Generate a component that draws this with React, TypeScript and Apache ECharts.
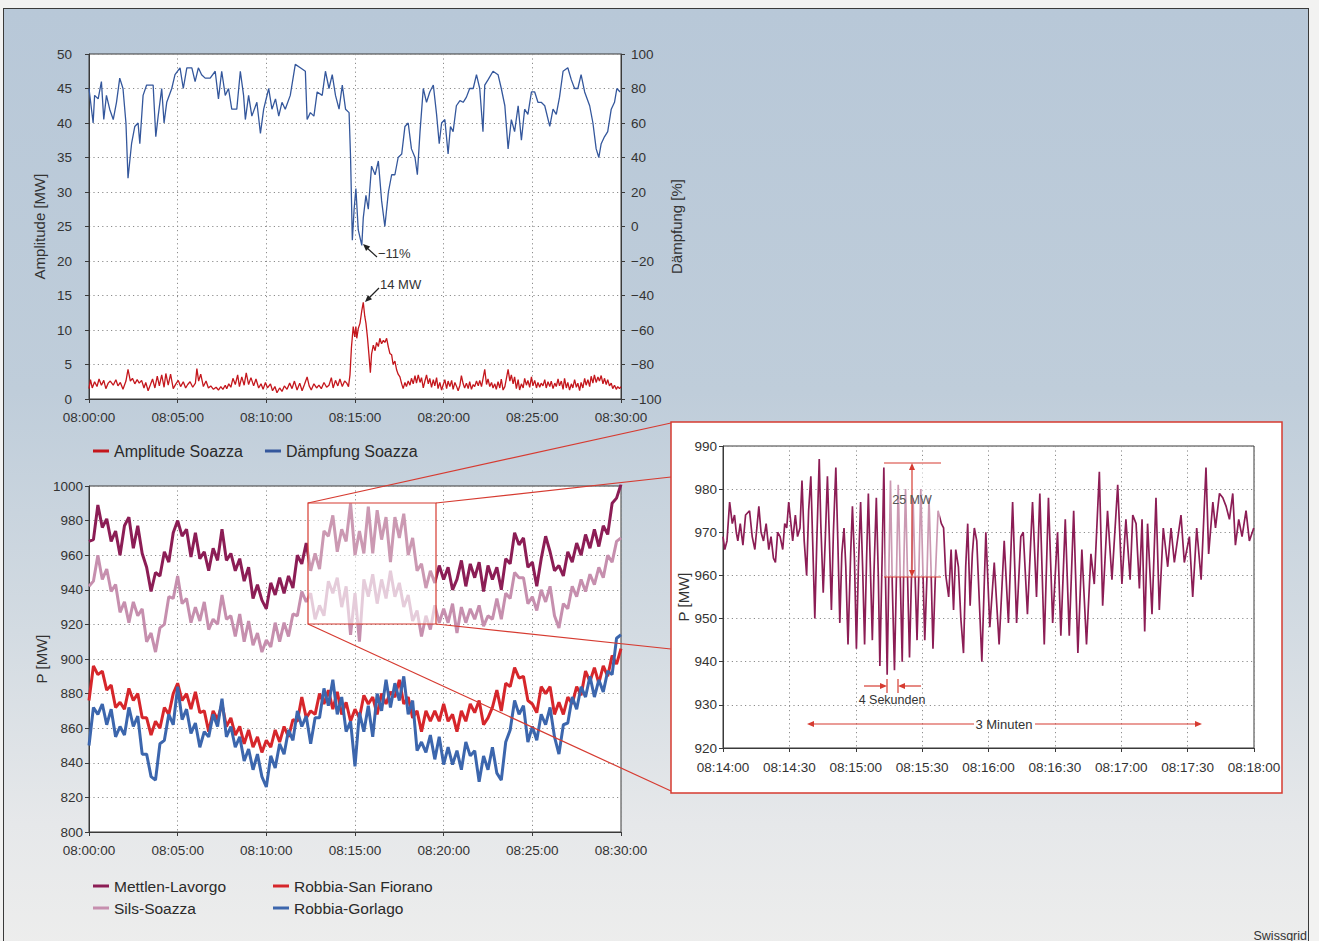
import React, { useEffect, useRef } from "react";
import * as echarts from "echarts";

const FONT = '"Liberation Sans", Arial, Helvetica, sans-serif';

// ---------- Top chart: Soazza (seconds after 08:00:00, value) ----------
const dampingSoazza: [number, number][] = [
  [0,80],[14,60],[19,76],[31,74],[42,84],[50,62],[59,76],[70,68],[82,62],[93,72],[104,86],[115,80],[125,60],[132,28],[144,48],[155,58],[166,60],[172,48],[183,76],[195,82],[217,82],[226,52],[234,64],[246,80],[254,60],[263,72],[280,80],[291,88],[308,92],[319,80],[331,92],[348,92],[359,84],[370,92],[381,88],[393,86],[410,86],[427,90],[438,74],[449,90],[461,76],[472,80],[483,68],[500,68],[512,90],[523,76],[529,62],[540,76],[551,64],[568,72],[580,54],[591,68],[608,80],[619,68],[631,74],[642,64],[653,72],[664,68],[681,76],[698,94],[715,92],[732,90],[738,62],[749,66],[761,64],[772,78],[789,76],[800,90],[812,80],[823,88],[834,76],[846,68],[857,82],[868,68],[880,66],[885,40],[891,-8],[897,10],[903,22],[911,-2],[923,-11],[928,5],[937,18],[945,10],[956,35],[968,30],[979,38],[990,15],[1001,0],[1013,20],[1024,30],[1035,30],[1046,40],[1058,42],[1069,58],[1080,60],[1091,45],[1103,40],[1111,30],[1120,55],[1131,80],[1142,72],[1153,78],[1165,82],[1176,65],[1185,48],[1193,60],[1204,62],[1215,42],[1223,58],[1232,55],[1243,70],[1255,73],[1266,72],[1277,75],[1288,80],[1300,80],[1311,88],[1322,80],[1333,55],[1339,82],[1350,85],[1367,90],[1384,88],[1395,80],[1407,70],[1418,45],[1429,62],[1440,55],[1452,70],[1463,50],[1474,68],[1485,65],[1497,78],[1508,78],[1519,72],[1530,72],[1542,70],[1559,58],[1570,68],[1581,65],[1592,75],[1604,90],[1620,92],[1632,85],[1643,80],[1654,80],[1665,88],[1677,78],[1694,70],[1705,60],[1716,45],[1725,40],[1733,48],[1744,52],[1755,55],[1767,68],[1778,72],[1786,80],[1797,78]
];

const amplitudeSoazza: [number, number][] = [
  [0,1.5],[5,2.8],[11,1.6],[19,2.5],[27,1.8],[34,2.9],[42,2.0],[50,2.7],[57,1.5],[65,2.3],[72,2.6],[82,2.0],[91,2.8],[98,1.9],[106,2.4],[115,1.4],[125,2.6],[132,4.3],[140,2.6],[147,3.0],[155,2.2],[163,2.8],[170,2.3],[178,2.7],[186,1.6],[192,2.4],[200,1.2],[208,2.1],[215,2.9],[223,1.6],[231,3.3],[238,1.9],[246,3.5],[254,1.7],[260,3.7],[268,2.0],[276,3.6],[285,1.5],[294,2.2],[302,2.7],[310,1.8],[319,2.5],[327,1.6],[334,2.1],[342,2.5],[351,1.7],[360,2.3],[365,4.4],[371,2.6],[378,3.6],[387,1.8],[396,2.6],[404,1.6],[412,1.9],[421,1.4],[430,1.7],[438,1.3],[446,1.8],[453,1.4],[461,2.0],[466,1.5],[473,2.2],[480,1.7],[487,3.0],[495,2.1],[503,3.5],[509,1.8],[517,3.2],[525,2.0],[532,3.8],[540,2.1],[548,3.1],[557,1.9],[565,2.9],[574,1.6],[582,2.2],[589,1.4],[597,2.4],[604,1.6],[614,2.2],[621,1.2],[629,1.8],[636,0.9],[645,1.6],[653,1.1],[661,1.9],[670,1.4],[679,2.3],[687,1.5],[695,2.6],[704,1.3],[713,2.3],[721,1.2],[729,2.1],[738,3.2],[745,1.9],[752,1.3],[761,2.2],[770,1.6],[778,2.0],[786,1.5],[795,2.4],[804,1.7],[812,2.0],[820,3.1],[826,1.6],[834,2.7],[842,1.9],[849,2.9],[857,1.8],[865,2.6],[872,2.3],[878,1.8],[883,3.5],[888,7.5],[894,10.5],[899,9.0],[903,10.5],[906,8.8],[911,10.2],[917,11.0],[923,12.8],[928,14.0],[933,12.0],[937,11.0],[942,9.0],[947,6.5],[952,3.8],[956,6.5],[962,7.8],[968,7.0],[973,8.2],[979,7.6],[984,8.8],[990,8.0],[996,8.5],[1001,8.2],[1007,8.8],[1013,7.5],[1018,6.6],[1024,6.4],[1029,5.0],[1035,5.5],[1041,4.2],[1046,3.6],[1052,3.2],[1058,2.2],[1063,1.5],[1069,2.4],[1074,1.8],[1080,2.6],[1086,2.0],[1091,3.0],[1097,2.2],[1103,3.4],[1108,2.3],[1114,3.5],[1120,2.4],[1125,3.1],[1131,1.6],[1136,2.5],[1142,3.5],[1148,2.2],[1153,3.0],[1159,1.7],[1165,2.8],[1170,1.9],[1176,3.1],[1181,1.5],[1187,2.4],[1193,1.3],[1198,2.0],[1204,2.8],[1210,1.5],[1215,2.6],[1221,1.8],[1227,2.7],[1232,1.4],[1238,2.4],[1243,1.9],[1249,1.2],[1255,2.0],[1260,3.4],[1266,2.2],[1271,1.6],[1277,2.3],[1283,1.5],[1288,2.5],[1294,1.4],[1300,2.1],[1305,1.8],[1311,2.6],[1317,1.9],[1322,2.7],[1328,1.8],[1333,2.9],[1339,4.3],[1345,2.1],[1350,2.9],[1356,1.8],[1362,2.4],[1367,1.6],[1373,2.2],[1378,1.4],[1384,2.5],[1390,1.6],[1395,2.9],[1401,1.3],[1407,1.8],[1412,2.9],[1418,4.3],[1424,2.6],[1429,3.5],[1435,2.2],[1440,3.2],[1446,1.5],[1452,2.8],[1457,1.3],[1463,2.2],[1469,1.6],[1474,3.0],[1480,2.0],[1485,2.7],[1491,1.7],[1497,3.2],[1502,1.9],[1508,2.7],[1514,1.6],[1519,2.4],[1525,1.7],[1530,2.3],[1536,1.9],[1542,2.8],[1547,1.6],[1553,2.5],[1559,1.8],[1564,2.6],[1570,1.5],[1576,2.3],[1581,1.8],[1587,2.9],[1592,1.9],[1598,2.6],[1604,1.4],[1609,3.0],[1615,1.6],[1620,2.4],[1626,1.3],[1632,2.2],[1637,1.6],[1643,2.8],[1649,1.7],[1654,2.3],[1660,1.2],[1665,2.4],[1671,1.6],[1677,3.0],[1682,2.0],[1688,2.8],[1694,1.8],[1699,3.3],[1705,2.3],[1710,3.5],[1716,2.4],[1722,3.2],[1727,2.6],[1733,3.4],[1739,2.2],[1744,3.0],[1750,2.1],[1755,2.8],[1761,1.9],[1767,2.3],[1772,1.5],[1778,2.0],[1784,1.4],[1789,1.8],[1795,1.5],[1800,1.8]
];

// ---------- Bottom-left chart: line flows, one value every 15 s from 08:00:00 ----------
const STEP = 15;
const mettlenLavorgo = [
  968,969,989,976,981,968,974,960,977,982,
  964,977,961,953,939,950,948,962,956,973,
  980,971,975,959,973,958,962,951,964,957,
  975,957,961,951,958,945,953,935,943,934,
  929,944,937,947,938,948,941,960,955,967,
  951,961,952,974,971,983,962,975,968,990,
  960,974,961,988,961,986,969,982,956,982,
  970,984,960,970,951,955,941,951,944,954,
  946,953,940,946,957,942,955,947,956,939,
  954,946,953,940,958,955,973,966,970,953,
  956,942,958,971,962,951,954,948,962,956,
  967,960,972,964,975,965,977,972,990,993,
  1001
];
const silsSoazza = [
  942,945,960,946,952,939,943,927,933,921,
  933,925,929,910,915,904,918,920,936,935,
  948,932,935,921,930,922,933,917,923,920,
  937,923,925,913,926,910,922,908,915,904,
  911,907,921,910,921,913,926,925,939,933,
  938,923,931,925,945,938,947,930,942,914,
  938,910,946,936,949,932,946,935,951,936,
  944,930,937,922,928,913,925,917,931,921,
  929,921,932,915,930,921,929,923,931,919,
  925,923,935,923,938,935,950,947,947,932,
  936,928,940,933,942,925,918,932,929,942,
  936,946,939,949,943,953,947,960,956,968,
  970
];
const robbiaSanFiorano = [
  876,896,891,893,882,885,872,875,871,883,
  876,880,866,866,856,864,860,872,868,880,
  886,876,880,871,881,869,870,858,870,865,
  874,861,866,856,861,851,859,849,855,846,
  853,849,859,852,861,855,865,864,878,866,
  870,868,880,874,882,871,881,868,875,864,
  871,866,879,874,878,868,880,874,881,878,
  888,874,878,866,870,858,870,864,870,864,
  874,864,868,858,870,864,874,869,876,862,
  866,872,882,870,886,884,895,889,890,876,
  874,869,884,880,884,868,875,868,878,874,
  884,879,893,887,895,886,896,890,902,897,
  906
];
const robbiaGorlago = [
  850,872,868,874,862,871,855,861,856,872,
  861,867,845,845,832,830,851,853,868,862,
  884,865,871,857,863,849,858,855,868,861,
  877,855,861,849,855,841,848,836,845,832,
  826,844,837,851,845,859,853,870,861,867,
  851,866,866,883,873,888,868,878,858,864,
  838,869,858,873,855,880,870,888,872,886,
  876,890,868,876,847,852,846,856,842,855,
  839,849,839,847,836,852,844,847,829,844,
  836,849,834,830,852,859,876,868,873,852,
  861,853,868,862,872,855,845,862,863,878,
  871,884,878,890,878,888,881,893,891,912,
  914
];

// ---------- Inset: Mettlen-Lavorgo 08:14:00 - 08:18:00 (seconds after 08:14:00, MW) ----------
const INSET_START = 840;
const insetMettlen: [number, number][] = [
  [0,969],[0.8,966],[1.8,968],[3,977],[4.2,972],[5.2,974],[6,970],[6.7,968],[7.8,972],[9,967],[10.2,974],[12,975],[13.2,969],[14.4,966],[15.3,971],[16.2,976],[17.2,970],[18.3,968],[19.5,972],[20.7,966],[21.7,969],[22.8,964],[23.7,963],[24.7,970],[25.8,969],[27,966],[27.9,972],[28.8,971],[29.7,977],[30.3,974],[31.5,968],[32.7,974],[33.7,969],[34.8,971],[35.7,982],[36.7,968],[37.8,960],[38.7,975],[39.7,983],[40.8,963],[41.5,950],[42.4,968],[43.5,987],[44.2,972],[45.3,956],[46.2,968],[47.2,983],[48,970],[49,952],[49.9,970],[51,985],[51.9,968],[52.8,949],[53.7,965],[54.7,971],[55.5,962],[56.5,944],[57.7,965],[58.5,976],[59.4,964],[60.3,943],[61.2,962],[62.2,977],[63.1,962],[64,944],[64.9,964],[65.7,979],[66.6,962],[67.5,945],[68.2,960],[69.3,978],[70.2,960],[70.9,939],[72,966],[72.7,985],[73.5,958],[74.2,937],[75,962],[75.7,982],[76.5,958],[77.5,938],[78.4,960],[79.2,981],[80.1,960],[81,940],[81.7,962],[82.5,980],[83.4,960],[84.3,941],[85.2,960],[85.9,978],[86.7,962],[87.7,945],[88.5,960],[89.4,980],[90.3,962],[91.2,945],[92.2,960],[93.1,978],[94,962],[94.9,943],[96,960],[97.2,975],[98.7,972],[99.7,971],[100.7,960],[102,955],[103.1,966],[104.2,952],[105.2,966],[106.4,962],[107.5,950],[108.7,942],[109.7,962],[110.6,972],[111.7,953],[112.7,965],[113.6,971],[114.7,968],[117,940],[118.8,970],[120.6,948],[122.6,963],[124.8,944],[127.1,968],[129,949],[130.9,977],[132.7,949],[134.6,969],[135.7,970],[137.6,951],[139.9,977],[141.7,955],[143.2,979],[145.2,944],[147.1,978],[149,949],[151.2,970],[152.7,946],[154.7,973],[156.5,946],[158.5,975],[160.4,942],[162.2,966],[164.3,944],[166.3,965],[167.8,958],[170.1,984],[171.6,953],[173.8,975],[175.8,959],[178.4,981],[180.3,958],[182.1,973],[184,959],[185.2,974],[186.7,972],[188.2,957],[189.4,973],[190.6,947],[191.9,972],[193.9,951],[195.7,978],[197.2,952],[199,971],[201,962],[202.5,971],[204,963],[207,974],[208.5,963],[210.8,969],[212.3,955],[214.1,971],[216.1,959],[218.3,985],[219.5,965],[221.4,977],[222.6,971],[224.4,979],[225.9,978],[227.4,976],[228.9,973],[230.4,979],[231.6,967],[233.1,973],[234.6,969],[236.4,975],[237.9,968],[239.9,971]
];

const topLegend = ["Amplitude Soazza", "Dämpfung Soazza"];
const bottomLegendA = ["Mettlen-Lavorgo", "Sils-Soazza"];
const bottomLegendB = ["Robbia-San Fiorano", "Robbia-Gorlago"];

const C_AMP = "#c4161c";
const C_DAMP = "#34579c";
const C_METTLEN = "#8c1d55";
const C_SILS = "#c68fae";
const C_SANFIO = "#d6262b";
const C_GORLAGO = "#3c66ad";
const C_RED = "#d63b31";
const TXT = "#333";

const pad2 = (n: number) => String(n).padStart(2, "0");
const fmtTime = (v: number) => {
  const m = Math.floor(v / 60);
  const s = Math.round(v - m * 60);
  return `08:${pad2(m)}:${pad2(s)}`;
};
const plain = (v: number) => String(v).replace("-", "\u2212");
const regular = (vals: number[]) => vals.map((y, i) => [i * STEP, y]);

function arrowHead(tx: number, ty: number, fx: number, fy: number, color: string, len = 7, half = 3) {
  const dx = tx - fx, dy = ty - fy;
  const L = Math.hypot(dx, dy);
  const ux = dx / L, uy = dy / L;
  const bx = tx - ux * len, by = ty - uy * len;
  return {
    type: "polygon", z: 120,
    shape: { points: [[tx, ty], [bx - uy * half, by + ux * half], [bx + uy * half, by - ux * half]] },
    style: { fill: color },
  };
}
function seg(x1: number, y1: number, x2: number, y2: number, color: string, w = 1.2, z = 110) {
  return { type: "line", z, shape: { x1, y1, x2, y2 }, style: { stroke: color, lineWidth: w } };
}
function label(x: number, y: number, text: string, size: number, align = "left", color = TXT) {
  return {
    type: "text", z: 130, x, y,
    style: { text, fontSize: size, fontFamily: FONT, fill: color, align, verticalAlign: "middle" },
  };
}

const dotted = { show: true, lineStyle: { color: "#8c8c8c", type: [1.2, 3.2], width: 1 } };
const axisBase = {
  axisLine: { show: true, onZero: false, lineStyle: { color: "#3a3a3a", width: 1 } },
  axisTick: { show: true, length: 4, lineStyle: { color: "#3a3a3a" } },
};
const tickLabel = (margin: number, formatter: any = plain) => ({
  fontSize: 13.5, color: TXT, fontFamily: FONT, margin, formatter,
});

export default function App() {
  const ref = useRef<HTMLDivElement>(null);
  useEffect(() => {
    if (!ref.current) return;
    const chart = echarts.init(ref.current, null, { renderer: "svg" });
    const grids = [
      { left: 89, top: 54, width: 532, height: 345 },
      { left: 89, top: 486, width: 532, height: 346 },
      { left: 723, top: 446, width: 531, height: 302 },
    ].map((g) => ({ ...g, show: true, backgroundColor: "#fff", borderColor: "#3a3a3a", borderWidth: 1, containLabel: false }));

    const option: any = {
      animation: false,
      backgroundColor: "transparent",
      textStyle: { fontFamily: FONT },
      grid: grids,
      legend: [
        { data: topLegend, left: 88, top: 438, icon: "rect", itemWidth: 16, itemHeight: 3, itemGap: 22, selectedMode: false,
          textStyle: { fontSize: 16, color: "#2a2a2a", fontFamily: FONT } },
        { data: bottomLegendA, left: 88, top: 873, orient: "vertical", icon: "rect", itemWidth: 16, itemHeight: 3, itemGap: 6, selectedMode: false,
          textStyle: { fontSize: 15.5, color: "#2a2a2a", fontFamily: FONT } },
        { data: bottomLegendB, left: 268, top: 873, orient: "vertical", icon: "rect", itemWidth: 16, itemHeight: 3, itemGap: 6, selectedMode: false,
          textStyle: { fontSize: 15.5, color: "#2a2a2a", fontFamily: FONT } },
      ],
      xAxis: [
        { gridIndex: 0, type: "value", min: 0, max: 1800, interval: 300, ...axisBase, axisLabel: tickLabel(11, fmtTime), splitLine: dotted },
        { gridIndex: 1, type: "value", min: 0, max: 1800, interval: 300, ...axisBase, axisLabel: tickLabel(11, fmtTime), splitLine: dotted },
        { gridIndex: 2, type: "value", min: 840, max: 1080, interval: 30, ...axisBase, axisLabel: tickLabel(12, fmtTime), splitLine: dotted },
      ],
      yAxis: [
        { gridIndex: 0, type: "value", min: 0, max: 50, interval: 5, position: "left", ...axisBase,
          name: "Amplitude [MW]", nameLocation: "middle", nameGap: 42, nameTextStyle: { fontSize: 15, color: TXT, fontFamily: FONT },
          axisLabel: tickLabel(17), splitLine: dotted },
        { gridIndex: 0, type: "value", min: -100, max: 100, interval: 20, position: "right", ...axisBase,
          name: "Dämpfung [%]", nameLocation: "middle", nameGap: 48, nameTextStyle: { fontSize: 15, color: TXT, fontFamily: FONT },
          axisLabel: tickLabel(10), splitLine: { show: false } },
        { gridIndex: 1, type: "value", min: 800, max: 1000, interval: 20, ...axisBase,
          name: "P [MW]", nameLocation: "middle", nameGap: 40, nameTextStyle: { fontSize: 15, color: TXT, fontFamily: FONT },
          axisLabel: tickLabel(6), splitLine: dotted },
        { gridIndex: 2, type: "value", min: 920, max: 990, interval: 10, ...axisBase,
          name: "P [MW]", nameLocation: "middle", nameGap: 32, nameTextStyle: { fontSize: 15, color: TXT, fontFamily: FONT },
          axisLabel: tickLabel(6), splitLine: dotted },
      ],
      series: [
        { type: "line", name: "Dämpfung Soazza", xAxisIndex: 0, yAxisIndex: 1, data: dampingSoazza, symbol: "none",
          lineStyle: { color: C_DAMP, width: 1.3 }, itemStyle: { color: C_DAMP } },
        { type: "line", name: "Amplitude Soazza", xAxisIndex: 0, yAxisIndex: 0, data: amplitudeSoazza, symbol: "none",
          lineStyle: { color: C_AMP, width: 1.3 }, itemStyle: { color: C_AMP } },
        { type: "line", name: "Sils-Soazza", xAxisIndex: 1, yAxisIndex: 2, data: regular(silsSoazza), symbol: "none",
          lineStyle: { color: C_SILS, width: 3 }, itemStyle: { color: C_SILS } },
        { type: "line", name: "Mettlen-Lavorgo", xAxisIndex: 1, yAxisIndex: 2, data: regular(mettlenLavorgo), symbol: "none",
          lineStyle: { color: C_METTLEN, width: 3 }, itemStyle: { color: C_METTLEN } },
        { type: "line", name: "Robbia-San Fiorano", xAxisIndex: 1, yAxisIndex: 2, data: regular(robbiaSanFiorano), symbol: "none",
          lineStyle: { color: C_SANFIO, width: 3 }, itemStyle: { color: C_SANFIO } },
        { type: "line", name: "Robbia-Gorlago", xAxisIndex: 1, yAxisIndex: 2, data: regular(robbiaGorlago), symbol: "none",
          lineStyle: { color: C_GORLAGO, width: 3 }, itemStyle: { color: C_GORLAGO } },
        { type: "line", name: "Mettlen-Lavorgo 08:14–08:18", xAxisIndex: 2, yAxisIndex: 3,
          data: insetMettlen.map(([t, v]) => [INSET_START + t, v]), symbol: "none",
          lineStyle: { color: C_METTLEN, width: 1.7 }, itemStyle: { color: C_METTLEN } },
      ],
      graphic: [
        // inset frame
        { type: "rect", z: -5, shape: { x: 671, y: 422, width: 611, height: 371 }, style: { fill: "#fff", stroke: C_RED, lineWidth: 1.5 } },
        // zoom window in bottom-left chart
        { type: "rect", z: 100, shape: { x: 308, y: 503, width: 128, height: 121 }, style: { fill: "rgba(255,255,255,0.55)", stroke: C_RED, lineWidth: 1.2 } },
        seg(308, 503, 671, 423, C_RED),
        seg(436, 503, 671, 477, C_RED),
        seg(436, 624, 671, 649, C_RED),
        seg(308, 624, 671, 791, C_RED),
        // top chart annotations
        seg(377, 257, 366, 247, "#222", 1.2),
        arrowHead(363, 244, 377, 257, "#222"),
        label(378, 253, "\u221211%", 13),
        seg(379, 288, 368, 299, "#222", 1.2),
        arrowHead(365, 302, 379, 288, "#222"),
        label(380, 284, "14 MW", 13),
        // inset: 25 MW
        { type: "rect", z: 100, shape: { x: 885, y: 463, width: 55, height: 114 }, style: { fill: "rgba(255,255,255,0.55)" } },
        seg(884, 463, 941, 463, C_RED, 1.2),
        seg(884, 577, 941, 577, C_RED, 1.2),
        seg(912, 469, 912, 571, C_RED, 1.2),
        arrowHead(912, 463, 912, 480, C_RED),
        arrowHead(912, 577, 912, 560, C_RED),
        label(912, 500, "25 MW", 12.5, "center", "#555"),
        // inset: 4 Sekunden
        seg(864, 686, 881, 686, C_RED, 1.2),
        arrowHead(887, 686, 864, 686, C_RED),
        seg(887, 679, 887, 693, C_RED, 1.2),
        seg(921, 686, 904, 686, C_RED, 1.2),
        arrowHead(898, 686, 921, 686, C_RED),
        seg(898, 679, 898, 693, C_RED, 1.2),
        label(892, 700, "4 Sekunden", 12.5, "center"),
        // inset: 3 Minuten
        seg(813, 724, 974, 724, C_RED, 1.2),
        arrowHead(807, 724, 830, 724, C_RED),
        seg(1035, 724, 1196, 724, C_RED, 1.2),
        arrowHead(1202, 724, 1180, 724, C_RED),
        label(1004, 724, "3 Minuten", 13, "center"),
        // source
        { type: "text", z: 130, x: 1307, y: 929, style: { text: "Swissgrid", fontSize: 12.5, fontFamily: FONT, fill: TXT, align: "right", verticalAlign: "top" } },
      ],
    };
    chart.setOption(option);
    return () => chart.dispose();
  }, []);

  return (
    <div style={{ position: "fixed", left: 0, top: 0, width: 1319, height: 941, background: "#f2f2f1", overflow: "hidden" }}>
      <div
        style={{
          position: "absolute", left: 3, top: 8, width: 1306, height: 960,
          border: "1px solid #3a3a3a", boxSizing: "border-box",
          background: "linear-gradient(to bottom, #b8c8d8 0%, #bfcdda 40%, #d3dbe2 65%, #e6e8ea 85%, #eeeeed 100%)",
        }}
      />
      <div ref={ref} style={{ position: "absolute", left: 0, top: 0, width: 1319, height: 941 }} />
    </div>
  );
}
